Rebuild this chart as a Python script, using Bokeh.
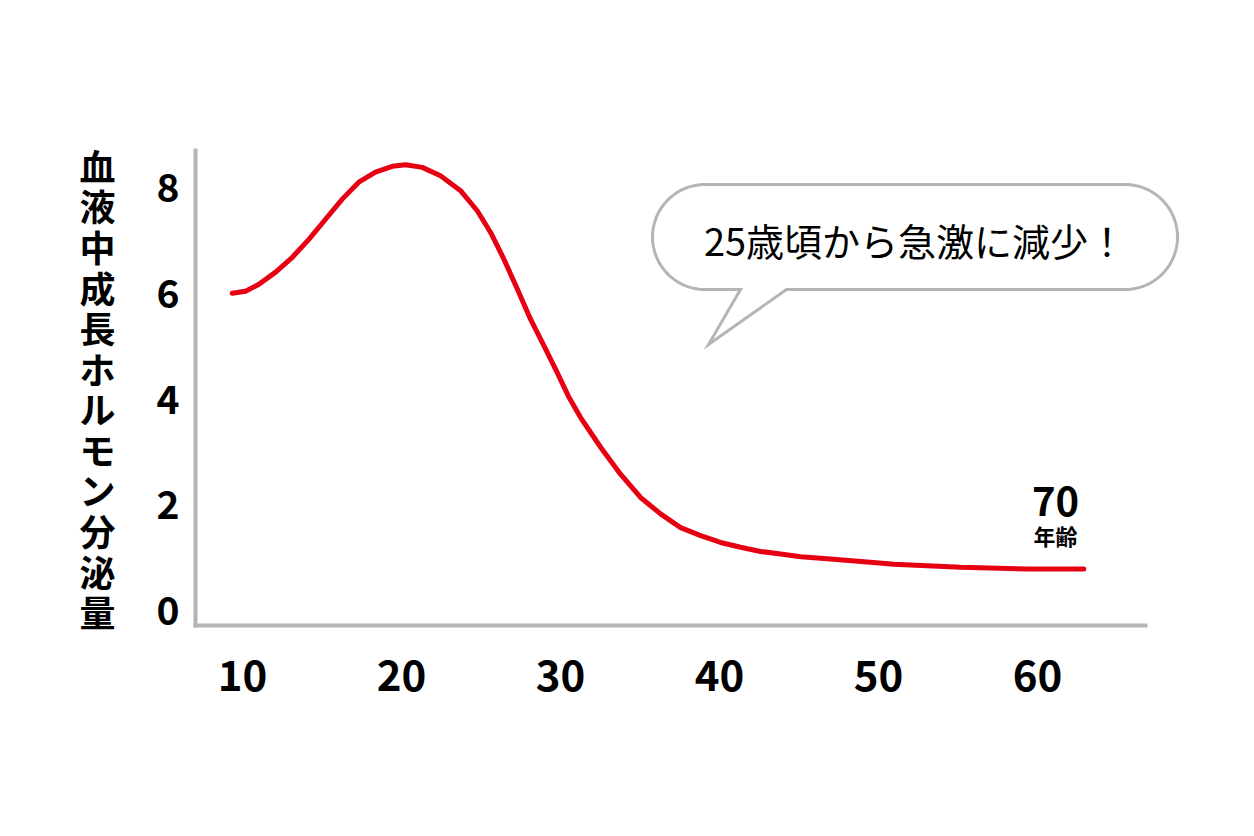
import numpy as np
from bokeh.plotting import figure
from bokeh.models import Range1d, FixedTicker, Label
from bokeh.embed import file_html
from bokeh.resources import INLINE

# ---- data ----
ages = [9.35, 10.19, 11.03, 12.08, 13.13, 14.17, 15.22, 16.27, 17.31, 18.36,
        19.42, 20.25, 21.30, 22.45, 23.71, 24.76, 25.60, 26.43, 27.28, 28.11,
        28.95, 29.79, 30.50, 31.26, 32.52, 33.77, 35.03, 36.29, 37.55, 38.81,
        40.06, 41.32, 42.58, 43.84, 45.10, 46.77, 48.90, 50.96, 55.16, 59.35,
        62.91]
hormone = [6.00, 6.04, 6.17, 6.40, 6.68, 7.02, 7.40, 7.78, 8.10, 8.29,
           8.40, 8.43, 8.38, 8.22, 7.94, 7.56, 7.15, 6.65, 6.08, 5.51,
           5.01, 4.50, 4.05, 3.65, 3.09, 2.58, 2.14, 1.83, 1.57, 1.42,
           1.29, 1.20, 1.12, 1.07, 1.02, 0.98, 0.93, 0.88, 0.82, 0.79,
           0.79]
x_ticks = [10, 20, 30, 40, 50, 60]
y_ticks = [0, 2, 4, 6, 8]
y_title = "血液中成長ホルモン分泌量"
bubble_text = "25歳頃から急激に減少！"
end_label_top = "70"
end_label_bottom = "年齢"

# ---- layout constants ----
W, H = 1238, 818
FL, FT, FR, FB = 195, 150, 1200, 625        # frame edges in page px
X0, Y0 = 7.04, -0.28                          # data value at frame left / bottom
PXX, PXY = 15.9, 52.9                         # px per data unit
x_end = X0 + (FR - FL) / PXX
y_end = Y0 + (FB - FT) / PXY
x_axis_end = X0 + (1145 - FL) / PXX

def fx(px):
    return X0 + (px - FL) / PXX

def fy(py):
    return Y0 + (FB - py) / PXY

FONT = "Noto Sans CJK JP"
AXIS_COL = "#b5b5b5"
RED = "#e60012"

p = figure(width=W, height=H, output_backend="svg", toolbar_location=None,
           x_range=Range1d(X0, x_end), y_range=Range1d(Y0, y_end),
           min_border_left=FL, min_border_top=FT,
           min_border_right=W - FR, min_border_bottom=H - FB)
p.outline_line_color = None
p.grid.visible = False
p.background_fill_color = "white"
p.border_fill_color = "white"

for ax in (p.xaxis, p.yaxis):
    ax.axis_line_color = AXIS_COL
    ax.axis_line_width = 4
    ax.axis_line_cap = "square"
    ax.major_tick_line_color = None
    ax.minor_tick_line_color = None
    ax.major_label_text_font = FONT
    ax.major_label_text_font_style = "bold"
    ax.major_label_text_color = "black"

p.xaxis.bounds = (X0, x_axis_end)
p.yaxis.bounds = (Y0, y_end)
p.xaxis.ticker = FixedTicker(ticks=x_ticks)
p.yaxis.ticker = FixedTicker(ticks=y_ticks)
p.xaxis.major_label_text_font_size = "42px"
p.yaxis.major_label_text_font_size = "39px"
p.xaxis.major_label_standoff = 28
p.yaxis.major_label_standoff = 10

p.yaxis.axis_label = "\n".join(y_title)
p.yaxis.axis_label_orientation = "horizontal"
p.yaxis.axis_label_text_font = FONT
p.yaxis.axis_label_text_font_style = "bold"
p.yaxis.axis_label_text_font_size = "36px"
p.yaxis.axis_label_text_line_height = 0.78
p.yaxis.axis_label_text_color = "black"
p.yaxis.axis_label_standoff = 38

# ---- curve ----
p.line(ages, hormone, line_color=RED, line_width=5, line_cap="round", line_join="round")

# ---- speech bubble ----
L, R, T, B = 652, 1177, 184, 289
r = (B - T) / 2
cy = (T + B) / 2
tail = [(740, B), (708, 344), (786, B)]
pts = []
pts.append((tail[2][0], B))
th = np.linspace(np.pi / 2, -np.pi / 2, 60)
pts += [(R - r + r * np.cos(t), cy + r * np.sin(t)) for t in th]
th = np.linspace(3 * np.pi / 2, np.pi / 2, 60)
pts += [(L + r + r * np.cos(t), cy + r * np.sin(t)) for t in th]
pts.append(tail[0])
pts.append(tail[1])
pts.append(tail[2])
bx = [fx(a) for a, b in pts]
by = [fy(b) for a, b in pts]
p.patch(bx, by, fill_color="white", line_color=AXIS_COL, line_width=3, line_join="miter")

p.add_layout(Label(x=fx((L + R) / 2), y=fy(cy + 2), text=bubble_text,
                   text_font=FONT, text_font_size="38px", text_color="black",
                   text_align="center", text_baseline="middle"))

# ---- end labels ----
p.add_layout(Label(x=fx(1055), y=fy(500), text=end_label_top,
                   text_font=FONT, text_font_style="bold", text_font_size="40px",
                   text_color="black", text_align="center", text_baseline="middle"))
p.add_layout(Label(x=fx(1055), y=fy(534), text=end_label_bottom,
                   text_font=FONT, text_font_style="bold", text_font_size="22px",
                   text_color="black", text_align="center", text_baseline="middle"))

open("out.html", "w").write(file_html(p, INLINE))
